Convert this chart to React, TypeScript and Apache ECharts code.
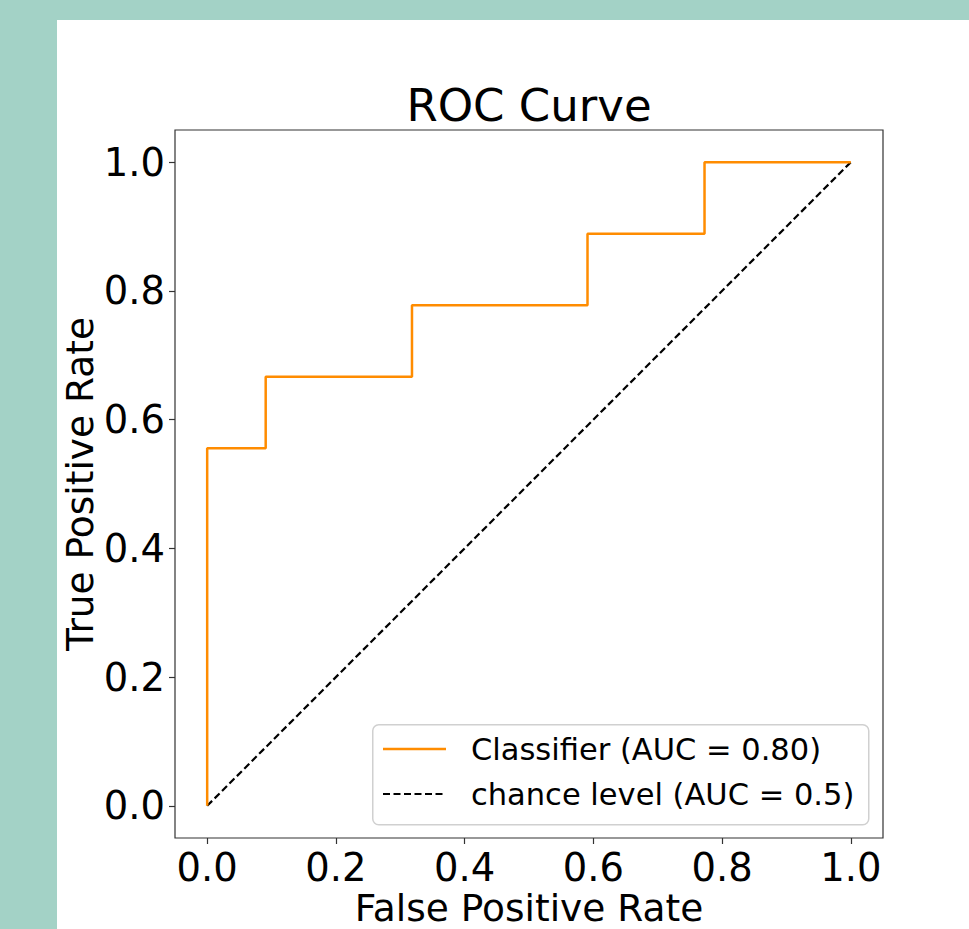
import React, { useEffect, useRef } from "react";
import * as echarts from "echarts";

const fpr = [0, 0, 0.0909, 0.0909, 0.3182, 0.3182, 0.5909, 0.5909, 0.7727, 0.7727, 1.0];
const tpr = [0, 0.5556, 0.5556, 0.6667, 0.6667, 0.7778, 0.7778, 0.8889, 0.8889, 1.0, 1.0];
const chanceX = [0, 1];
const chanceY = [0, 1];
const tickValues = [0, 0.2, 0.4, 0.6, 0.8, 1.0];
const legendLabels = ["Classifier (AUC = 0.80)", "chance level (AUC = 0.5)"];
const titleText = "ROC Curve";
const xLabel = "False Positive Rate";
const yLabel = "True Positive Rate";

const FONT = "DejaVu Sans";

export default function App() {
  const ref = useRef<HTMLDivElement>(null);
  useEffect(() => {
    if (!ref.current) return;
    const chart = echarts.init(ref.current, undefined, { renderer: "svg" });
    const axisCommon = {
      type: "value",
      min: -0.05,
      max: 1.05,
      splitLine: { show: false },
      axisLine: { show: false, onZero: false },
      axisTick: {
        show: true,
        inside: false,
        length: 6,
        customValues: tickValues,
        lineStyle: { color: "#333", width: 1.2 },
      },
      axisLabel: {
        customValues: tickValues,
        formatter: (v: number) => v.toFixed(1),
        color: "#000",
        fontFamily: FONT,
        fontSize: 38.5,
        lineHeight: 38,
        margin: 10,
      },
      nameLocation: "middle",
      nameMoveOverlap: false,
      nameTextStyle: { color: "#000", fontFamily: FONT, fontSize: 37.5, lineHeight: 37 },
    };
    chart.setOption({
      animation: false,
      backgroundColor: "#ffffff",
      title: {
        text: titleText,
        left: 467,
        top: 58,
        textAlign: "center",
        textStyle: { fontFamily: FONT, fontSize: 45, fontWeight: "normal", color: "#000" },
      },
      grid: {
        left: 118,
        top: 110,
        width: 708,
        height: 708,
        show: true,
        borderColor: "#333",
        borderWidth: 1.2,
        backgroundColor: "transparent",
        containLabel: false,
        outerBoundsMode: "none",
      },
      xAxis: { ...axisCommon, name: xLabel, nameGap: 51 },
      yAxis: { ...axisCommon, name: yLabel, nameGap: 77, nameRotate: 90 },
      series: [
        {
          type: "line",
          name: legendLabels[0],
          data: fpr.map((x, i) => [x, tpr[i]]),
          showSymbol: false,
          symbol: "none",
          lineStyle: { color: "#ff8c00", width: 2.5 },
          z: 3,
        },
        {
          type: "line",
          name: legendLabels[1],
          data: chanceX.map((x, i) => [x, chanceY[i]]),
          showSymbol: false,
          symbol: "none",
          lineStyle: { color: "#000", width: 2.2, type: [7, 3.5] },
          z: 2,
        },
      ],
      graphic: [
        {
          type: "rect",
          left: 315,
          top: 704,
          shape: { width: 496, height: 100, r: 6 },
          style: { fill: "rgba(255,255,255,0.8)", stroke: "#d0d0d0", lineWidth: 1.5 },
          z: 10,
        },
        {
          type: "line",
          shape: { x1: 326, y1: 729, x2: 389, y2: 729 },
          style: { stroke: "#ff8c00", lineWidth: 2.5 },
          z: 11,
        },
        {
          type: "line",
          shape: { x1: 326, y1: 774, x2: 389, y2: 774 },
          style: { stroke: "#000", lineWidth: 2, lineDash: [7, 3.5] },
          z: 11,
        },
        {
          type: "text",
          x: 414,
          y: 729,
          style: {
            text: legendLabels[0],
            fontFamily: FONT,
            fontSize: 30.5,
            fill: "#000",
            verticalAlign: "middle",
            align: "left",
          },
          z: 11,
        },
        {
          type: "text",
          x: 414,
          y: 774,
          style: {
            text: legendLabels[1],
            fontFamily: FONT,
            fontSize: 30.5,
            fill: "#000",
            verticalAlign: "middle",
            align: "left",
          },
          z: 11,
        },
      ],
    });
    return () => chart.dispose();
  }, []);

  return (
    <div
      style={{
        position: "fixed",
        left: 0,
        top: 0,
        width: 969,
        height: 929,
        background: "#a3d2c6",
      }}
    >
      <div
        ref={ref}
        style={{ position: "absolute", left: 57, top: 20, width: 912, height: 909, background: "#fff" }}
      />
    </div>
  );
}
